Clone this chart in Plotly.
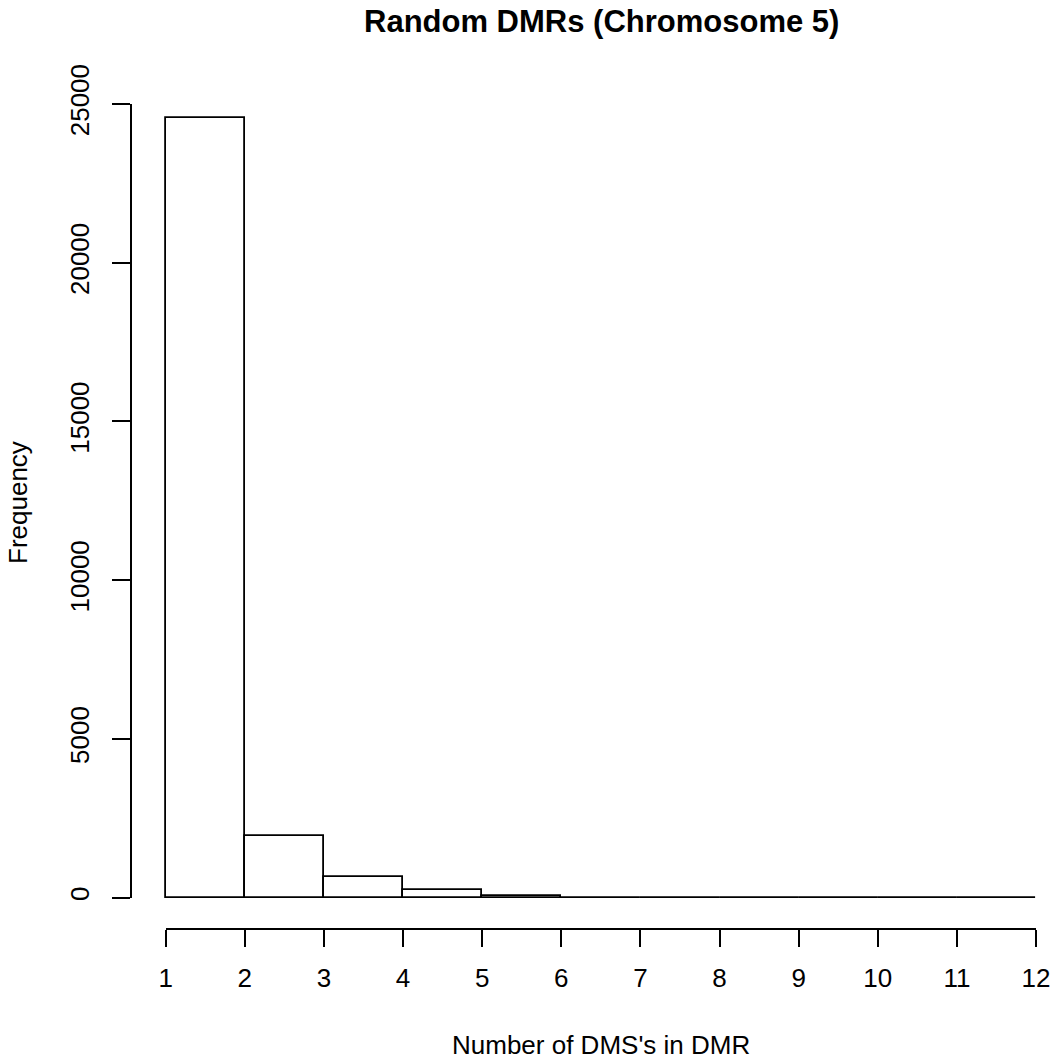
import plotly.graph_objects as go

# Data: histogram of number of DMS's in DMR (bin edges 1..12)
bin_edges = [1, 2, 3, 4, 5, 6, 7, 8, 9, 10, 11, 12]
counts = [24550, 1945, 660, 242, 55, 5, 2, 1, 1, 1, 1]
x_ticks = [1, 2, 3, 4, 5, 6, 7, 8, 9, 10, 11, 12]
y_ticks = [0, 5000, 10000, 15000, 20000, 25000]

title_text = "Random DMRs (Chromosome 5)"
x_title = "Number of DMS's in DMR"
y_title = "Frequency"

W, H = 1055, 1059
FONT = "Liberation Sans, Arial, Helvetica, sans-serif"

# pixel geometry of the R-style plot
px_x1, px_x12 = 165.7, 1036.0      # x=1 and x=12
px_y0, px_y25k = 897.7, 104.0      # y=0 and y=25000
ax_x_line = 929.0                  # x-axis line (pixel y)
ax_y_line = 131.0                  # y-axis line (pixel x)

sx = (px_x12 - px_x1) / (x_ticks[-1] - x_ticks[0])
sy = (px_y0 - px_y25k) / 25000.0

centers = [(a + b) / 2 for a, b in zip(bin_edges[:-1], bin_edges[1:])]
widths = [b - a for a, b in zip(bin_edges[:-1], bin_edges[1:])]

fig = go.Figure()
fig.add_trace(go.Bar(
    x=centers, y=counts, width=widths,
    marker=dict(color="white", line=dict(color="black", width=1.8)),
    xaxis="x", yaxis="y", showlegend=False, hoverinfo="skip",
))
# dummy trace for the decorative R-style axes
fig.add_trace(go.Scatter(
    x=[x_ticks[0]], y=[y_ticks[0]], mode="markers",
    marker=dict(opacity=0), xaxis="x2", yaxis="y2",
    showlegend=False, hoverinfo="skip",
))

x_lo = x_ticks[0] - px_x1 / sx
x_hi = x_ticks[0] + (W - px_x1) / sx
y_lo = -(H - px_y0) / sy
y_hi = px_y0 / sy

fig.update_layout(
    width=W, height=H,
    margin=dict(l=0, r=0, t=0, b=0, pad=0, autoexpand=False),
    paper_bgcolor="white", plot_bgcolor="rgba(0,0,0,0)",
    font=dict(family=FONT, color="black", size=26),
    bargap=0,
    xaxis=dict(domain=[0, 1], range=[x_lo, x_hi], visible=False,
               fixedrange=True, automargin=False),
    yaxis=dict(domain=[0, 1], range=[y_lo, y_hi], visible=False,
               fixedrange=True, automargin=False),
    xaxis2=dict(
        domain=[px_x1 / W, px_x12 / W], range=[x_ticks[0], x_ticks[-1]],
        anchor="free", position=1 - ax_x_line / H, automargin=False,
        showline=True, linecolor="black", linewidth=1.8,
        ticks="outside", ticklen=17, tickwidth=1.8, tickcolor="black",
        tickvals=x_ticks, ticktext=[str(v) for v in x_ticks],
        showgrid=False, zeroline=False, ticklabelstandoff=9,
        tickfont=dict(size=26, family=FONT, color="black"),
    ),
    yaxis2=dict(
        domain=[1 - px_y0 / H, 1 - px_y25k / H], range=[0, 25000],
        anchor="free", position=ax_y_line / W, automargin=False,
        showline=True, linecolor="black", linewidth=1.8,
        ticks="outside", ticklen=18, tickwidth=1.8, tickcolor="black",
        tickvals=y_ticks, ticktext=[str(v) for v in y_ticks],
        tickangle=-90, showgrid=False, zeroline=False, ticklabelstandoff=13,
        tickfont=dict(size=26, family=FONT, color="black"),
    ),
    annotations=[
        dict(text="<b>" + title_text + "</b>", x=601 / W, y=1 - 21 / H,
             xref="paper", yref="paper", xanchor="center", yanchor="middle",
             showarrow=False, font=dict(size=31, family=FONT, color="black")),
        dict(text=x_title, x=601 / W, y=1 - 1045 / H,
             xref="paper", yref="paper", xanchor="center", yanchor="middle",
             showarrow=False, font=dict(size=26, family=FONT, color="black")),
        dict(text=y_title, x=18 / W, y=1 - 503 / H, textangle=-90,
             xref="paper", yref="paper", xanchor="center", yanchor="middle",
             showarrow=False, font=dict(size=26, family=FONT, color="black")),
    ],
)

fig.write_html("out.html")
